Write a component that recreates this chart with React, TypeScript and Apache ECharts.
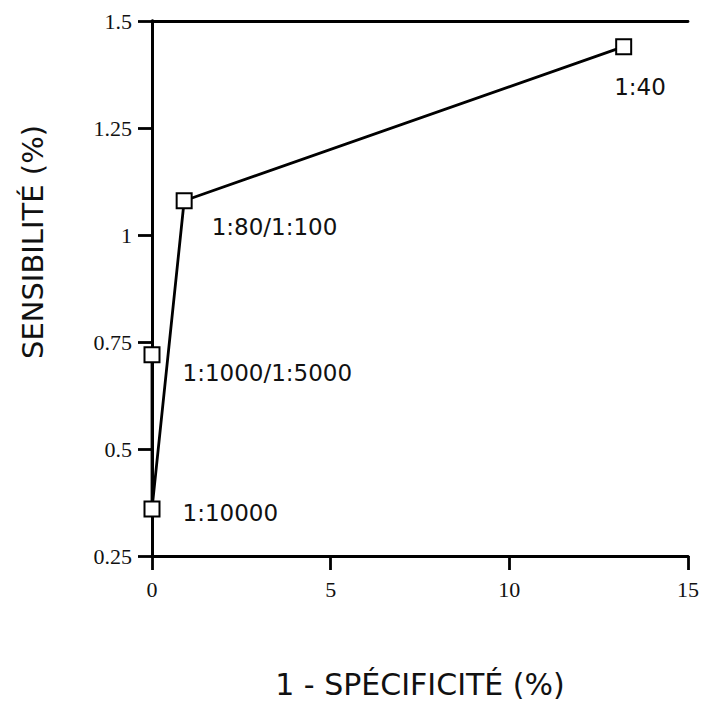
import React, { useEffect, useRef } from "react";
import * as echarts from "echarts";

const pointNames = ["1:1000/1:5000", "1:10000", "1:80/1:100", "1:40"];
const specificityValues = [0, 0, 0.9, 13.2];
const sensitivityValues = [0.72, 0.36, 1.08, 1.44];
const xTicks = [0, 5, 10, 15];
const yTicks = [0.25, 0.5, 0.75, 1, 1.25, 1.5];

const labelOffsets: Record<string, [number, number]> = {
  "1:1000/1:5000": [22, 18],
  "1:10000": [22, 4],
  "1:80/1:100": [19, 26],
  "1:40": [-18, 40],
};

export default function App() {
  const ref = useRef<HTMLDivElement>(null);
  useEffect(() => {
    if (!ref.current) return;
    const chart = echarts.init(ref.current, undefined, { renderer: "svg" });
    const sans = "DejaVu Sans";
    const serif = "Liberation Serif";
    const data = pointNames.map((n, i) => ({
      value: [specificityValues[i], sensitivityValues[i]],
      name: n,
      label: {
        show: true,
        position: "right",
        distance: 0,
        offset: labelOffsets[n],
        formatter: n,
        fontFamily: sans,
        fontSize: 23,
        color: "#111",
        align: "left",
        verticalAlign: "middle",
      },
    }));
    const lineStyle = { color: "#000", width: 2.8 };
    chart.setOption({
      animation: false,
      backgroundColor: "#fff",
      grid: { left: 152, right: 19, top: 21, bottom: 151 },
      xAxis: [
        {
          type: "value",
          min: xTicks[0],
          max: xTicks[xTicks.length - 1],
          interval: 5,
          position: "bottom",
          axisLine: { show: true, lineStyle },
          axisTick: { show: true, inside: false, length: 14, lineStyle },
          splitLine: { show: false },
          axisLabel: { fontFamily: serif, fontSize: 22, color: "#111", margin: 22 },
          name: "1 - SPÉCIFICITÉ (%)",
          nameLocation: "middle",
          nameGap: 113,
          nameTextStyle: { fontFamily: sans, fontSize: 30, color: "#111" },
        },
        {
          type: "value",
          min: xTicks[0],
          max: xTicks[xTicks.length - 1],
          position: "top",
          axisLine: { show: true, lineStyle },
          axisTick: { show: false },
          axisLabel: { show: false },
          splitLine: { show: false },
        },
      ],
      yAxis: [
        {
          type: "value",
          min: yTicks[0],
          max: yTicks[yTicks.length - 1],
          interval: 0.25,
          position: "left",
          axisLine: { show: true, lineStyle },
          axisTick: { show: true, inside: false, length: 14, lineStyle },
          splitLine: { show: false },
          axisLabel: { fontFamily: serif, fontSize: 22, color: "#111", margin: 20 },
        },
        {
          type: "value",
          min: yTicks[0],
          max: yTicks[yTicks.length - 1],
          position: "right",
          axisLine: { show: true, lineStyle },
          axisTick: { show: false },
          axisLabel: { show: false },
          splitLine: { show: false },
        },
      ],
      graphic: [
        {
          type: "text",
          x: 33,
          y: 242,
          rotation: Math.PI / 2,
          style: {
            text: "SENSIBILITÉ (%)",
            fontFamily: sans,
            fontSize: 29,
            fill: "#111",
            align: "center",
            verticalAlign: "middle",
          },
        },
      ],
      series: [
        {
          type: "line",
          data,
          symbol: "rect",
          symbolSize: 15,
          showAllSymbol: true,
          lineStyle,
          itemStyle: { color: "#fff", borderColor: "#000", borderWidth: 2 },
          z: 3,
        },
      ],
    });
    return () => chart.dispose();
  }, []);
  return <div ref={ref} style={{ width: 707, height: 707, position: "absolute", left: 0, top: 0 }} />;
}
